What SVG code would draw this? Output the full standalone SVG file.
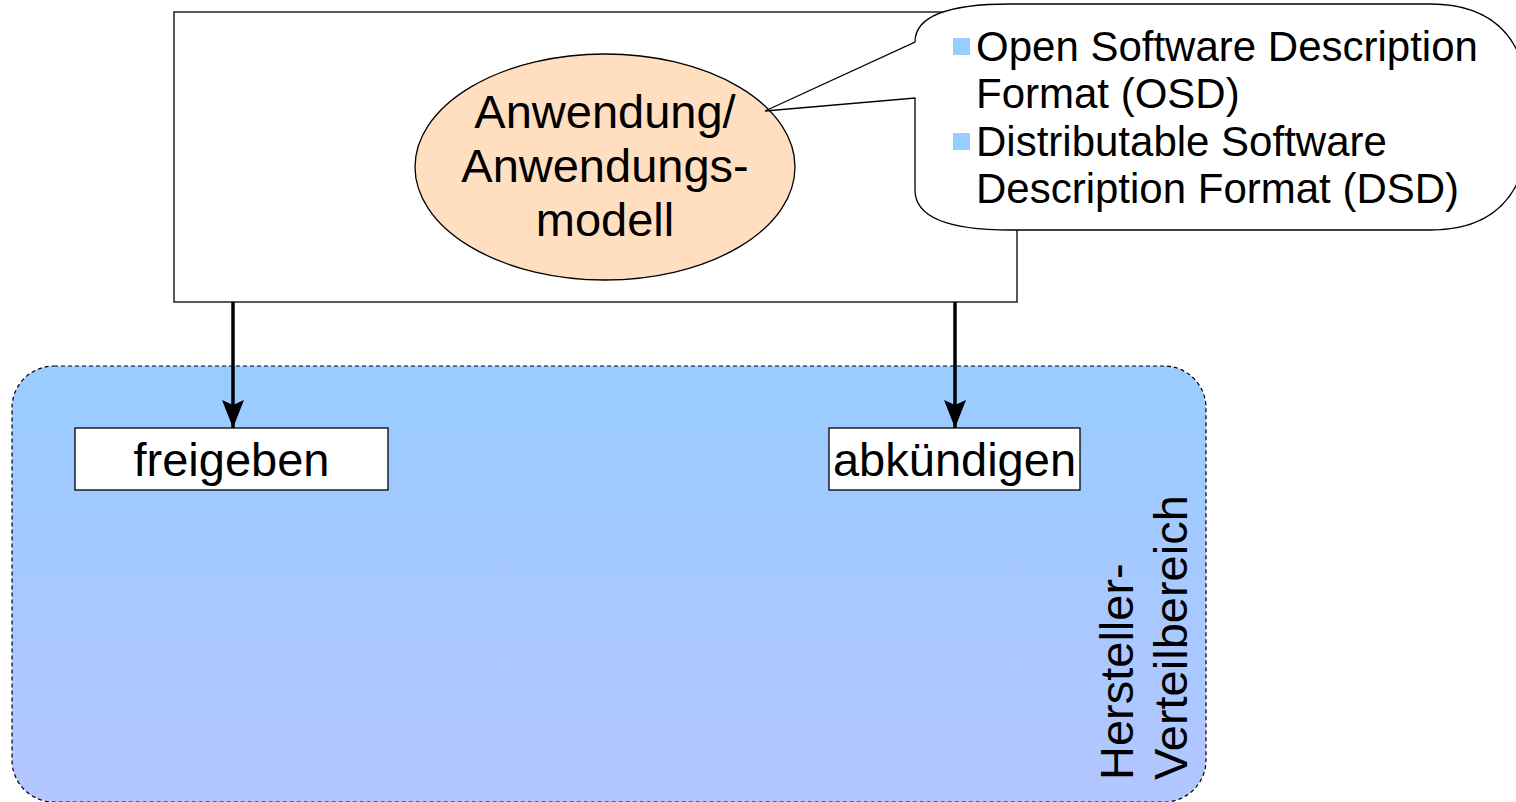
<svg xmlns="http://www.w3.org/2000/svg" width="1516" height="802" viewBox="0 0 1516 802">
  <defs>
    <linearGradient id="areaFill" x1="0" y1="0" x2="0" y2="1">
      <stop offset="0" stop-color="#99ccff"/>
      <stop offset="1" stop-color="#b3c6ff"/>
    </linearGradient>
    <marker id="arrow" viewBox="0 0 28 22" refX="28" refY="11" markerWidth="28" markerHeight="22" markerUnits="userSpaceOnUse" orient="auto">
      <path d="M0,0 L28,11 L0,22 L5,11 Z" fill="#000"/>
    </marker>
  </defs>
  <style>
    text { font-family: "Liberation Sans", Arial, sans-serif; fill: #000; }
    .lbl { font-size: 47px; text-anchor: middle; }
    .note { font-size: 42px; }
    .box { fill: #fff; stroke: #000; stroke-width: 1.3; }
    .conn { stroke: #000; stroke-width: 3.5; fill: none; }
    .bullet { fill: #99ccff; }
  </style>

  <!-- distribution area -->
  <g id="area">
    <rect x="12" y="366" width="1194" height="436" rx="42" ry="42" fill="url(#areaFill)" stroke="#000" stroke-width="1.2" stroke-dasharray="4 3"/>
    <text class="lbl" style="text-anchor:start" transform="translate(1133,780) rotate(-90)">Hersteller-</text>
    <text class="lbl" style="text-anchor:start" transform="translate(1187,780) rotate(-90)">Verteilbereich</text>
  </g>

  <!-- application frame -->
  <g id="app">
    <rect class="box" x="174" y="12" width="843" height="290"/>
    <ellipse cx="605" cy="167" rx="190" ry="113" fill="#ffdfbf" stroke="#000" stroke-width="1.3"/>
    <text class="lbl" x="605" y="128">Anwendung/</text>
    <text class="lbl" x="605" y="182">Anwendungs-</text>
    <text class="lbl" x="605" y="236">modell</text>
  </g>

  <!-- callout with formats -->
  <g id="formats">
    <path class="box" d="M915,98 L915,190 Q915,230 1010,230 L1430,230 Q1530,230 1530,117 Q1530,4 1430,4 L1010,4 Q915,4 915,42 L765,111 Z"/>
    <rect class="bullet" x="953" y="38" width="17" height="17"/>
    <text class="note" x="976" y="61">Open Software Description</text>
    <text class="note" x="976" y="108">Format (OSD)</text>
    <rect class="bullet" x="953" y="133" width="17" height="17"/>
    <text class="note" x="976" y="156">Distributable Software</text>
    <text class="note" x="976" y="203">Description Format (DSD)</text>
  </g>

  <g id="release">
    <rect class="box" x="75" y="428" width="313" height="62"/>
    <text class="lbl" x="231.5" y="476">freigeben</text>
  </g>

  <g id="retire">
    <rect class="box" x="829" y="428" width="251" height="62"/>
    <text class="lbl" x="954.5" y="476">abkündigen</text>
  </g>

  <g id="connectors">
    <line class="conn" x1="233" y1="302" x2="233" y2="428" marker-end="url(#arrow)"/>
    <line class="conn" x1="955" y1="302" x2="955" y2="428" marker-end="url(#arrow)"/>
  </g>
</svg>
